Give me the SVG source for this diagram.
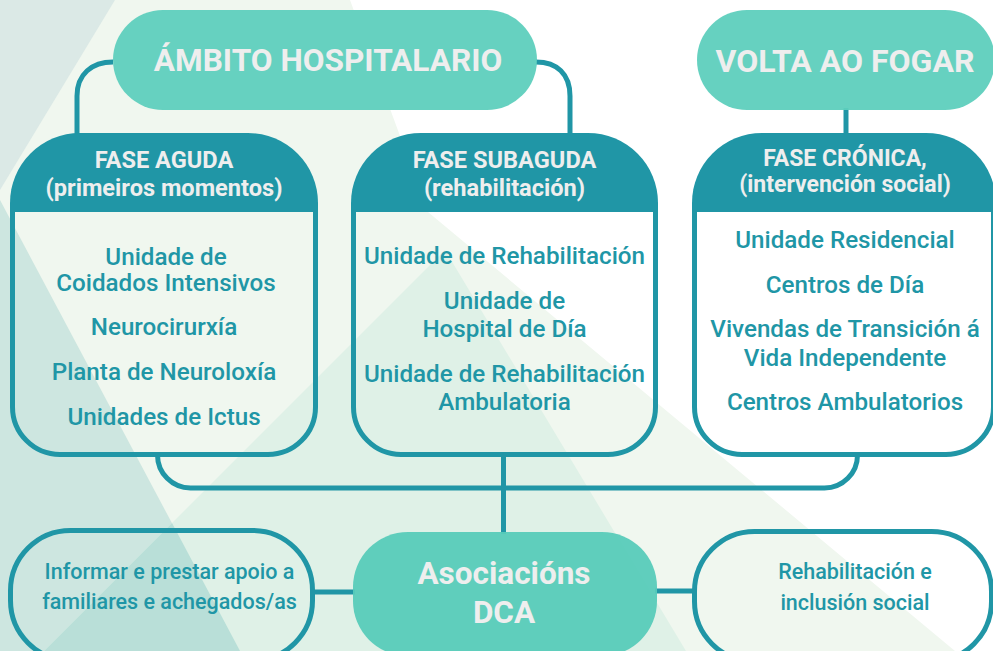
<svg xmlns="http://www.w3.org/2000/svg" width="993" height="651" viewBox="0 0 993 651">
<style>
.pill{fill:#5ecfbd;opacity:0.95}
.hdr{fill:#2096a6}
.box{fill:none;stroke:#2096a6;stroke-width:5}
.conn{fill:none;stroke:#2096a6;stroke-width:5}
.big{font-family:Roboto,"Liberation Sans",sans-serif;font-weight:700;fill:#eeeeee;text-anchor:middle}
.ht{font-family:Roboto,"Liberation Sans",sans-serif;font-weight:700;font-size:23.6px;fill:#eeeeee;text-anchor:middle}
.bt{font-family:Roboto,"Liberation Sans",sans-serif;font-weight:500;font-size:24.2px;fill:#2096a6;text-anchor:middle}
.st{font-family:Roboto,"Liberation Sans",sans-serif;font-weight:500;font-size:21.5px;fill:#2096a6;text-anchor:middle}
</style>
<g id="background">
<rect x="0" y="0" width="993" height="651" fill="#ffffff"/>
<polygon points="0,0 350,0 428,212 955,651 0,651" fill="#f0f7ef"/>
<polygon points="0,0 115,0 0,190" fill="#dbe9e6"/>
<polygon points="0,200 240,651 0,651" fill="#cde6e0"/>
<polygon points="445,250 44,651 686,651" fill="#dff1e7"/>
<polygon points="172,523 240,651 44,651" fill="#b9dfd8"/>
</g>
<g id="connectors">
<path class="conn" d="M113,62 C92,62 77,74 77,96 V136"/>
<path class="conn" d="M536,62 C557,62 570,74 570,96 V136"/>
<path class="conn" d="M846,108 V136"/>
<path class="conn" d="M157.5,455 A33,33 0 0 0 190.5,488 H824.5 A33,33 0 0 0 857.5,455"/>
<path class="conn" d="M503.5,455 V534"/>
<path class="conn" d="M313,592 H355"/>
<path class="conn" d="M655,591 H694"/>
</g>
<g id="ambito">
<rect class="pill" x="113" y="10" width="424" height="100" rx="50"/>
<text class="big" x="328" y="71" font-size="31.6">ÁMBITO HOSPITALARIO</text>
</g>
<g id="volta">
<rect class="pill" x="697" y="10" width="298" height="100" rx="50"/>
<text class="big" x="845" y="72" font-size="32">VOLTA AO FOGAR</text>
</g>
<g id="fase-aguda">
<path class="box" d="M12.5,205 V407 A47.5,47.5 0 0 0 60,454.5 H268 A47.5,47.5 0 0 0 315.5,407 V205"/>
<path class="hdr" d="M10,212 V203 A70,70 0 0 1 80,133 H248 A70,70 0 0 1 318,203 V212 Z"/>
<text class="ht" x="164" y="168">FASE AGUDA</text>
<text class="ht" x="164" y="196">(primeiros momentos)</text>
<text class="bt" x="166" y="265">Unidade de</text>
<text class="bt" x="166" y="291">Coidados Intensivos</text>
<text class="bt" x="164" y="335">Neurocirurxía</text>
<text class="bt" x="164" y="380">Planta de Neuroloxía</text>
<text class="bt" x="164" y="425">Unidades de Ictus</text>
</g>
<g id="fase-subaguda">
<path class="box" d="M353.5,205 V407 A47.5,47.5 0 0 0 401,454.5 H608 A47.5,47.5 0 0 0 655.5,407 V205"/>
<path class="hdr" d="M351,212 V203 A70,70 0 0 1 421,133 H588 A70,70 0 0 1 658,203 V212 Z"/>
<text class="ht" x="504.5" y="168">FASE SUBAGUDA</text>
<text class="ht" x="504.5" y="196">(rehabilitación)</text>
<text class="bt" x="504.5" y="264">Unidade de Rehabilitación</text>
<text class="bt" x="504.5" y="309">Unidade de</text>
<text class="bt" x="504.5" y="337">Hospital de Día</text>
<text class="bt" x="504.5" y="382">Unidade de Rehabilitación</text>
<text class="bt" x="504.5" y="410">Ambulatoria</text>
</g>
<g id="fase-cronica">
<path class="box" d="M694.5,205 V407 A47.5,47.5 0 0 0 742,454.5 H946 A47.5,47.5 0 0 0 993.5,407 V205"/>
<path class="hdr" d="M692,212 V203 A70,70 0 0 1 762,133 H926 A70,70 0 0 1 996,203 V212 Z"/>
<text class="ht" x="845" y="166" style="font-size:23px">FASE CRÓNICA,</text>
<text class="ht" x="845" y="192" style="font-size:23px">(intervención social)</text>
<text class="bt" x="845" y="248">Unidade Residencial</text>
<text class="bt" x="845" y="293">Centros de Día</text>
<text class="bt" x="845" y="337">Vivendas de Transición á</text>
<text class="bt" x="845" y="366">Vida Independente</text>
<text class="bt" x="845" y="410">Centros Ambulatorios</text>
</g>
<g id="asociacions">
<rect class="pill" x="353" y="532" width="304" height="124" rx="55" style="fill:#57cbb9"/>
<text class="big" x="504" y="584" font-size="31.5">Asociacións</text>
<text class="big" x="504" y="623" font-size="31.5">DCA</text>
</g>
<g id="informar">
<rect class="box" x="10.5" y="530.5" width="302" height="130" rx="60"/>
<text class="st" x="169.5" y="579">Informar e prestar apoio a</text>
<text class="st" x="169.5" y="609">familiares e achegados/as</text>
</g>
<g id="rehabilitacion">
<rect class="box" x="694.5" y="531.5" width="297" height="130" rx="60"/>
<text class="st" x="855" y="579">Rehabilitación e</text>
<text class="st" x="855" y="610">inclusión social</text>
</g>
</svg>
